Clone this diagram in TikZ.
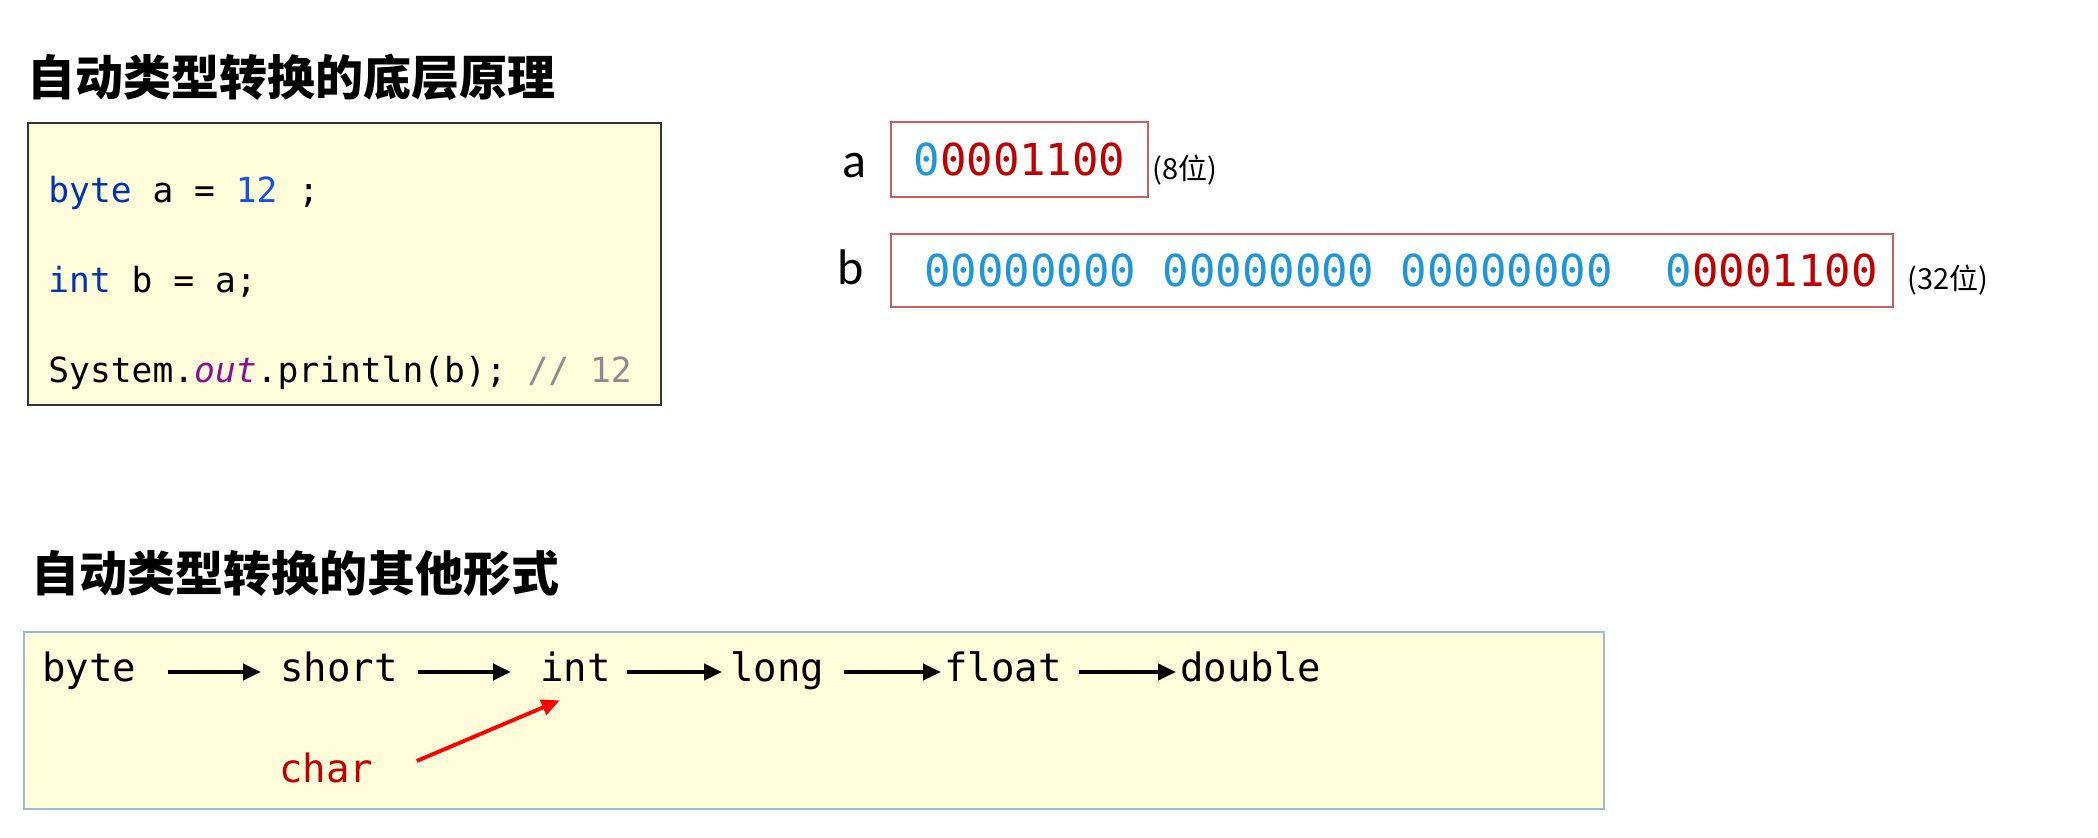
\documentclass[tikz,border=0pt]{standalone}
\usepackage{fontspec}
\usepackage{xcolor}
\usetikzlibrary{arrows.meta}

\newfontfamily\cjkfont{Noto Sans CJK SC}
\newfontfamily\codefont{DejaVu Sans Mono}
\newfontfamily\lblfont{Carlito}

\definecolor{codebg}{HTML}{FFFCDA}
\definecolor{kwblue}{HTML}{0033B3}
\definecolor{numblue}{HTML}{1750EB}
\definecolor{fieldpurple}{HTML}{871094}
\definecolor{cmtgray}{HTML}{8C8C8C}
\definecolor{bitblue}{HTML}{1E96DC}
\definecolor{bitred}{HTML}{C00000}
\definecolor{boxred}{HTML}{CD5C5C}
\definecolor{chainframe}{HTML}{9DB8DA}

\newcommand{\bz}[1]{\textcolor{bitblue}{#1}}
\newcommand{\br}[1]{\textcolor{bitred}{#1}}

\tikzset{
    heading/.style={anchor=west, inner sep=0pt, font=\cjkfont\bfseries\fontsize{24}{28}\selectfont},
    codeline/.style={anchor=base west, inner sep=0pt, font=\codefont\fontsize{17.3}{20}\selectfont},
    bitbox/.style={draw=boxred, line width=1pt, inner sep=0pt, font=\codefont\fontsize{22}{26}\selectfont},
    varname/.style={anchor=base east, inner sep=0pt, font=\lblfont\fontsize{25}{30}\selectfont},
    bitcount/.style={anchor=west, inner sep=0pt, font=\cjkfont\fontsize{14.5}{16}\selectfont},
    typename/.style={anchor=west, inner sep=0pt, text height=14pt, text depth=4pt, font=\codefont\fontsize{19.5}{22}\selectfont},
    widen/.style={-{Triangle[length=9pt,width=8pt]}, line width=2.2pt},
}

\begin{document}
\begin{tikzpicture}[x=0.5pt, y=-0.5pt]
            \fill[white] (0, 0) rectangle (2098, 838);

            % upper part: code and bit boxes
            \node[heading] (title1) at (27, 77) {自动类型转换的底层原理};
            \node[draw=black!80, line width=1.25pt, fill=codebg, minimum width=316.5pt, minimum height=141pt] (codebox) at (344.5, 264) {};
            \node[codeline] (line1) at (48, 203) {\textcolor{kwblue}{byte} a = \textcolor{numblue}{12} ;};
            \node[codeline] (line2) at (48, 293) {\textcolor{kwblue}{int} b = a;};
            \node[codeline] (line3) at (48, 383) {System.\textcolor{fieldpurple}{\itshape out}.println(b); \textcolor{cmtgray}{// 12}};

            \node[bitbox, minimum width=128.5pt, minimum height=37.5pt] (bitsa) at (1019.5, 159.5) {\bz{0}\br{0001100}};
            \node[bitbox, minimum width=501pt, minimum height=36.5pt] (bitsb) at (1392, 270.5) {\hspace{9pt}\bz{00000000 00000000 00000000}~~\bz{0}\br{0001100}};
            \node[varname] (vara) at (867, 178) {a};
            \node[varname] (varb) at (864, 285) {b};
            \node[bitcount] (counta) at (1152, 170) {(8位)};
            \node[bitcount] (countb) at (1907, 280) {(32位)};

            % lower part: widening chain
            \node[heading] (title2) at (31, 573) {自动类型转换的其他形式};
            \node[draw=chainframe, line width=1.25pt, fill=codebg, minimum width=790pt, minimum height=88.5pt] (chainbox) at (814, 720.5) {};
            \node[typename] (byte) at (42, 672) {byte};
            \node[typename] (short) at (280, 672) {short};
            \node[typename] (int) at (540, 672) {int};
            \node[typename] (long) at (730, 672) {long};
            \node[typename] (float) at (944, 672) {float};
            \node[typename] (double) at (1180, 672) {double};
            \node[typename, text=bitred] (char) at (279, 773) {char};

            \foreach \src/\dst/\gapa/\gapb in {byte/short/15.5/9.5, short/int/9.75/14.5, int/long/7.75/4, long/float/9.5/1.5, float/double/8.25/2}
                \draw[widen, shorten <=\gapa pt, shorten >=\gapb pt] (\src) -- (\dst);

            \draw[widen, red, line width=1.9pt] ([shift={(43,-12)}]char.east) -- ([shift={(-16,10)}]int.south);
\end{tikzpicture}
\end{document}
